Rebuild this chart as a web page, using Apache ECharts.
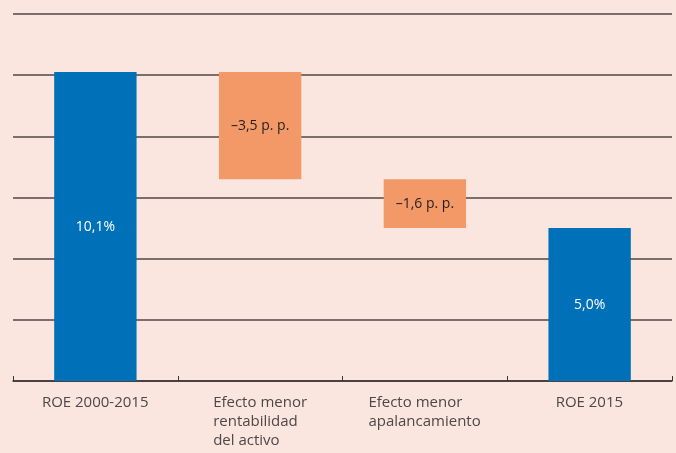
<!DOCTYPE html>
<html>
<head>
<meta charset="utf-8">
<style>
  html, body { margin: 0; padding: 0; background: #fbe6df; }
  #chart { width: 676px; height: 453px; }
</style>
<script src="https://cdn.jsdelivr.net/npm/echarts@6/dist/echarts.min.js"></script>
</head>
<body>
<div id="chart"></div>
<script>
'use strict';
// categorías del eje x
const categories = ['ROE 2000-2015', 'Efecto menor\nrentabilidad\ndel activo', 'Efecto menor\napalancamiento', 'ROE 2015'];
// tramo visible de cada barra (puntos porcentuales)
const barValues = [10.1, 3.5, 1.6, 5.0];
// base invisible de cada barra
const baseValues = [0, 6.6, 5.0, 0];
const barLabels = ['10,1%', '\u20133,5 p. p.', '\u20131,6 p. p.', '5,0%'];
const barColors = ['#0070b8', '#f39867', '#f39867', '#0070b8'];
const labelColors = ['#ffffff', '#231f20', '#231f20', '#ffffff'];

const axisFont = '15px "Open Sans"';

// ancho de la línea más larga, para alinear a la izquierda dentro del bloque
function maxLineWidth(text) {
    const ctx = document.createElement('canvas').getContext('2d');
    ctx.font = axisFont;
    return Math.max(...text.split('\n').map((s) => ctx.measureText(s).width));
}

function init() {
    const chart = echarts.init(document.getElementById('chart'));
    const rich = {};
    categories.forEach((c, i) => {
        rich['c' + i] = { width: Math.ceil(maxLineWidth(c)), align: 'left', fontSize: 15, lineHeight: 19, color: '#4d4745', fontFamily: 'Open Sans' };
    });
    const option = {
        backgroundColor: '#fbe6df',
        animation: false,
        textStyle: { fontFamily: 'Open Sans' },
        grid: { left: 13, right: 4, top: 14, bottom: 72 },
        xAxis: {
            type: 'category',
            data: categories,
            axisLine: { lineStyle: { color: '#3a3433', width: 1.5 } },
            axisTick: { show: true, inside: true, interval: 0, length: 5, lineStyle: { color: '#3a3433' } },
            axisLabel: {
                interval: 0,
                hideOverlap: false,
                color: '#4d4745',
                fontSize: 15,
                lineHeight: 19,
                margin: 12,
                verticalAlign: 'top',
                formatter: (value, idx) => value.split('\n').map((s) => '{c' + idx + '|' + s + '}').join('\n'),
                rich: rich,
            },
        },
        yAxis: {
            type: 'value',
            min: 0,
            max: 12,
            interval: 2,
            axisLabel: { show: false },
            axisLine: { show: false },
            axisTick: { show: false },
            splitLine: { lineStyle: { color: '#7a6f6c', width: 2 } },
        },
        series: [
            {
                type: 'bar',
                stack: 'w',
                barWidth: '50%',
                itemStyle: { color: 'transparent' },
                data: baseValues,
                silent: true,
            },
            {
                type: 'bar',
                stack: 'w',
                barWidth: '50%',
                data: barValues.map((v, i) => ({
                    value: v,
                    itemStyle: { color: barColors[i] },
                    label: {
                        show: true,
                        position: 'inside',
                        formatter: barLabels[i],
                        color: labelColors[i],
                        fontSize: 14,
                        fontFamily: 'Open Sans',
                    },
                })),
            },
        ],
    };
    chart.setOption(option);
}

(function () {
    init();
})();
</script>
</body>
</html>
